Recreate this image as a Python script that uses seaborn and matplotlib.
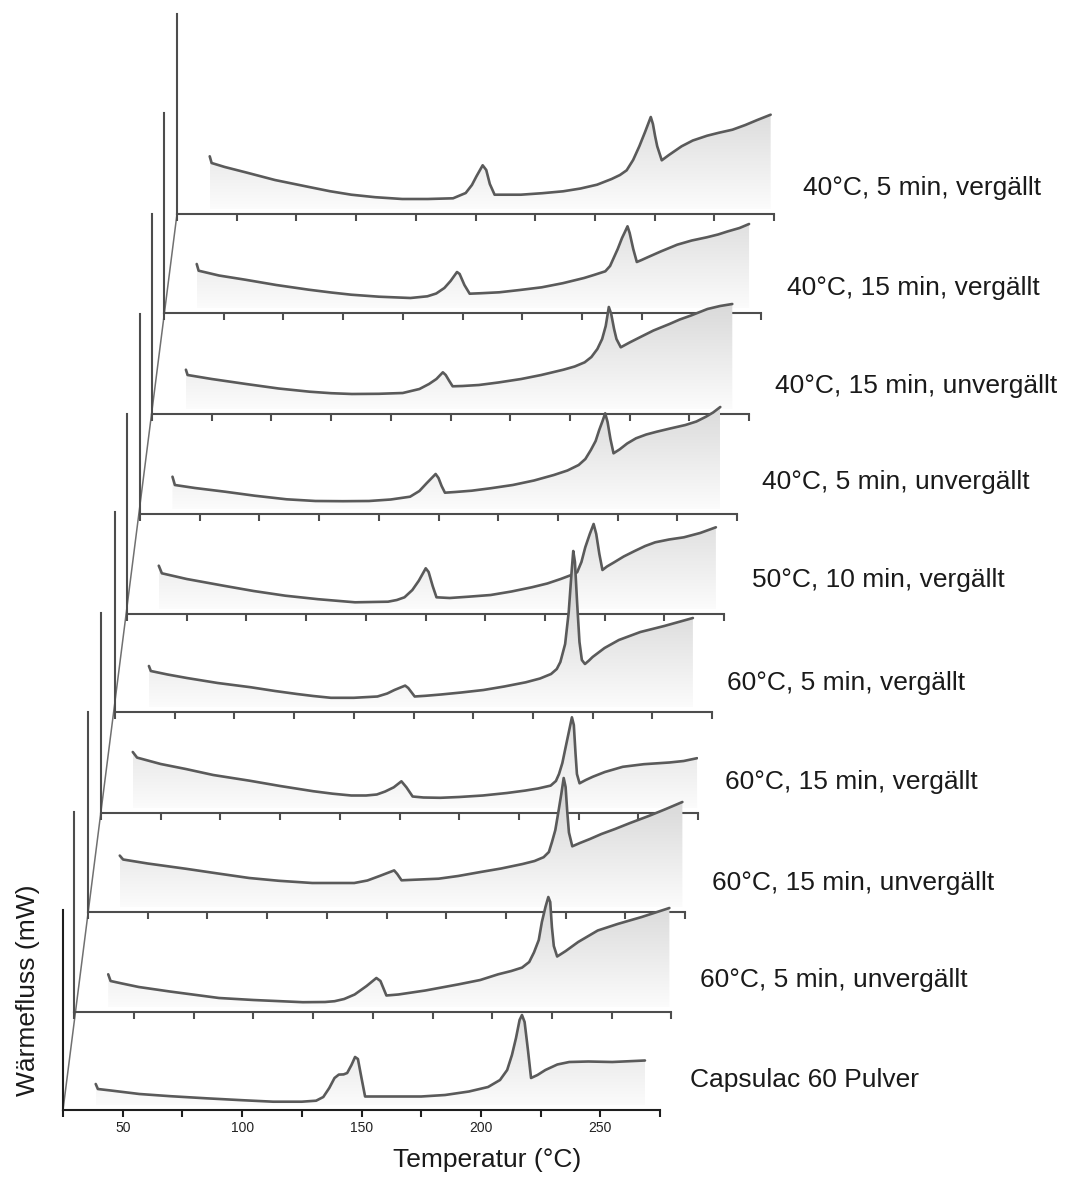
import numpy as np
import seaborn as sns
import matplotlib.pyplot as plt
from matplotlib.patches import Polygon
from matplotlib.lines import Line2D
from matplotlib.colors import LinearSegmentedColormap

sns.set_theme(style="white")
plt.rcParams['font.family'] = ['Liberation Sans', 'DejaVu Sans']

# sample labels, bottom to top
labels = ["Capsulac 60 Pulver",
          "60°C, 5 min, unvergällt",
          "60°C, 15 min, unvergällt",
          "60°C, 15 min, vergällt",
          "60°C, 5 min, vergällt",
          "50°C, 10 min, vergällt",
          "40°C, 5 min, unvergällt",
          "40°C, 15 min, unvergällt",
          "40°C, 15 min, vergällt",
          "40°C, 5 min, vergällt"]

# DSC curves: temperature (°C) and heat flow (arbitrary units, 0-200 per panel)
T0 = [38.7, 39.6, 45, 57, 70, 85, 100, 113, 125, 131, 134, 136.5, 138.7, 140.5, 142.5, 144, 145.8, 147.3, 148.5,
      150, 151.5, 160, 175, 185, 195, 203, 208, 211, 213, 214.7, 216.2, 217.2, 218.3, 219.7, 221, 223.7, 227,
      232, 237, 245, 255, 268.7]
h0 = [26, 21, 19.5, 16, 13.8, 11.7, 9.8, 8.3, 8.3, 9.3, 13, 22, 32, 35.4, 35.6, 37, 45, 53, 51,
      32, 13.5, 13.5, 13.5, 15, 18.5, 23, 30, 40, 55, 72, 90, 95, 88, 60, 32, 35, 40,
      45.5, 48, 48.5, 48, 49.5]

T1 = [39.2, 40.2, 45, 52, 65, 85.6, 100, 120.7, 130, 134, 138, 142.4, 147.4, 151.5, 153.2, 155.7, 160.7, 172,
      185.8, 195, 202.5, 208, 212.5, 215.5, 217.5, 219.5, 220.8, 222.3, 223.5, 224.3, 225, 225.8, 227.2, 230.8,
      236, 244.2, 252.5, 262.6, 274.2]
h1 = [37.7, 31, 28.5, 25, 20.5, 14, 12, 9.8, 10, 10.8, 13, 17.5, 26, 34, 31, 16.5, 17.5, 21.5,
      27.6, 32, 37.7, 41, 44.4, 50, 59.6, 72, 90, 105, 115, 110, 85, 66, 55.5, 61,
      70, 81.5, 88, 95, 104]

T2 = [38.3, 39.7, 50, 66.1, 80, 92.5, 105, 118.9, 136.5, 142, 147.1, 153.2, 154.5, 156.3, 162, 171.8, 180, 189.4,
      198, 207, 212, 215.8, 218, 219.3, 220.7, 221.9, 223.2, 224.2, 225, 225.7, 226.4, 227.8, 231, 235.2, 240,
      245.7, 252, 259.8, 267, 273.9]
h2 = [56.4, 52.5, 48.5, 43.2, 38.3, 34, 31.2, 29, 29, 31.5, 36, 41.6, 38, 31.7, 32.3, 33.3, 36, 40,
      43.5, 48, 51, 54.8, 60, 70, 82, 99, 118, 134, 125, 100, 79.5, 65.7, 69, 73, 78,
      83, 89, 96, 103, 110]

T3 = [38.3, 40.1, 50, 60.5, 72, 87.2, 100, 113.8, 122, 129.8, 136, 140.5, 144, 147.6, 150.8, 152.9, 155.5, 160,
      167.1, 175, 184.9, 195, 202.6, 208, 213.3, 215.5, 216.8, 218.2, 219.5, 221, 222.2, 223, 223.7, 224.3, 225.4,
      228, 231, 236, 243.5, 252.3, 263, 269, 274.6]
h3 = [61, 55.4, 49, 44, 38, 32.3, 27, 21.8, 19.3, 17.5, 17.5, 18.5, 21.5, 25.7, 31.7, 25.7, 16.5, 15.5,
      15.2, 16, 17.5, 20, 22.4, 24.5, 27.4, 32, 39, 50, 65, 82, 95.7, 88, 60, 39, 29.7,
      33, 36.3, 41, 46.2, 48.8, 50.5, 52, 54.8]

T4 = [39.2, 40, 47, 55.1, 68, 81.7, 92, 101.2, 108, 115.4, 125, 134.9, 139, 142, 146.5, 147.8, 150.5, 155,
      161.5, 170, 179.3, 188, 197, 203, 207.6, 210, 211.5, 213.5, 215, 216.2, 216.9, 217.6, 218.5, 219.5, 220.5,
      221.8, 223.5, 225, 230, 236, 245, 255, 267]
h4 = [46, 41, 37.5, 34, 29, 24.8, 21, 18, 16, 14.2, 14.2, 15.5, 18.5, 22, 26.4, 24, 15.5, 16.2,
      17.5, 19.5, 22, 25.5, 29.7, 33.5, 38, 43, 50, 68, 100, 140, 161, 150, 110, 70, 52,
      48, 51.5, 55, 64, 72, 80, 86, 94]

T5 = [38.3, 39.6, 50, 65.4, 78, 91.3, 105, 120.5, 134.3, 138, 141.2, 144.5, 147.2, 150.1, 151.3, 153, 154.6, 160.1,
      168, 177.3, 186, 194.5, 201, 206.6, 210.5, 213.5, 215.3, 216.9, 218.8, 220.4, 221.5, 222.8, 224.1, 226,
      229, 233, 237.6, 242, 246.2, 252, 258.2, 265, 271.6]
h5 = [48.3, 40.7, 35, 28.3, 23, 18.3, 14.8, 11.7, 12.3, 14, 16.7, 24, 33.3, 45.7, 42, 28, 16.7, 16,
      17.3, 19, 22.5, 26.7, 30.5, 35, 38.5, 41.7, 52, 66.7, 80, 90, 80, 60, 44, 47.5,
      51.7, 57.5, 63, 68, 71.7, 74.5, 76.7, 81, 86.7]

T6 = [38.6, 39.6, 48, 60.6, 73, 86.4, 98.5, 110, 120.9, 130, 138.1, 142, 145, 148.8, 150, 151.3, 152.7, 157,
      163.9, 172, 181.1, 190, 198.3, 204, 208.7, 211.5, 213.8, 215.8, 217.3, 218.7, 219.8, 220.8, 222, 223.3,
      225.9, 229, 232.7, 237, 241.4, 247, 253.4, 258, 262, 265, 268]
h6 = [37.3, 29, 26, 22.3, 18.3, 14.7, 13, 12.8, 13, 14.5, 17.3, 23, 30.7, 40, 36, 28, 21.3, 22,
      23.3, 25.8, 29, 33.5, 39, 43.5, 49, 55, 64, 73, 84, 93, 100.7, 92, 75, 60.7,
      64.7, 70.5, 75.7, 79.5, 82.3, 85.5, 89, 92.5, 97.3, 101.5, 107]

T7 = [39.2, 39.9, 50, 64.4, 78, 91, 100, 108.7, 120, 130, 137, 141, 144.1, 146.8, 148, 149.5, 150.9, 155,
      161.9, 170, 179.6, 188, 197.3, 202, 206.2, 209, 211.5, 213.5, 215, 216.3, 217.3, 218.5, 219.5, 221.3,
      225, 229.3, 235, 241.7, 246, 250.5, 257.6, 262.9, 268]
h7 = [44.3, 39, 35, 30, 25.5, 22.3, 20.8, 20, 20.2, 21, 25, 30, 35, 41.7, 39, 33, 27.7, 28,
      29, 31.5, 35, 39, 44.3, 47.5, 51.7, 57, 65, 75, 88, 107, 100, 85, 75, 66.7,
      71.5, 76.7, 83.5, 90, 94.5, 98.3, 105, 108, 110]

T8 = [38.7, 39.5, 48, 59, 72, 85.6, 95, 103.4, 115, 128.2, 135.3, 139, 142.4, 145, 147.7, 148.8, 150.8, 153,
      158, 165.4, 174, 183.2, 192, 200.9, 205, 209.8, 211.8, 213.3, 215, 216.8, 218, 219.1, 220, 221.5, 223,
      225, 227.5, 233, 239.9, 246, 252.3, 257, 261.2, 266, 270]
h8 = [49, 42.3, 37.5, 33.3, 28, 23.3, 20.5, 18.3, 16.3, 15, 16.7, 19.5, 25, 32, 41, 39, 28, 19.3,
      19.8, 20.7, 23, 25.7, 29.8, 35, 38, 41.7, 47, 55, 64, 75, 81, 86.7, 80, 64, 51,
      53, 55.7, 61.5, 68.3, 72.5, 75.7, 78.5, 81.7, 85, 89]

T9 = [38.7, 39.5, 45, 53.7, 66, 80.3, 89, 98, 108, 119.3, 130, 140.6, 145.9, 148.5, 150.4, 153, 154.5, 156,
      158, 163, 169, 178, 186.7, 194, 200.9, 207, 210.5, 213.3, 216, 218.6, 221, 223.4, 224.3, 225.2, 226.1,
      228, 231, 236.3, 241, 247, 252, 257.6, 263, 268, 273.6]
h9 = [57.7, 51, 47, 41.7, 34, 27, 22.8, 19.3, 16.8, 15, 15, 15.7, 21, 29, 37.7, 48.7, 44, 30,
      19.3, 19.3, 19.3, 20.8, 22.7, 25.5, 29.3, 35, 39, 43.7, 54, 67.7, 82, 97, 90, 78, 67.7,
      53.7, 59, 67.7, 73.5, 78.3, 81.3, 84.3, 89, 94, 99.3]

curves = [(T0, h0), (T1, h1), (T2, h2), (T3, h3), (T4, h4),
          (T5, h5), (T6, h6), (T7, h7), (T8, h8), (T9, h9)]

# layout in pixels (figure 1074 x 1183)
W, H = 1074, 1183
panel_left = [63, 74.3, 88, 101, 115, 127, 140, 152, 164, 177]
panel_base = [1110, 1012, 912, 813, 712, 614, 514, 414, 313, 214]
panel_w, panel_h = 597, 200
label_x = [690, 700, 712, 725, 727, 752, 762, 775, 787, 803]
label_y = [1080, 980, 883, 782, 683, 580, 482, 386, 288, 188]

curve_col = '#5a5a5a'
axis_col = '#4d4d4d'
cmap = LinearSegmentedColormap.from_list('fillgrad', ['#fdfdfd', '#bcbcbc'])
grad = np.linspace(0, 1, 256).reshape(-1, 1)

fig = plt.figure(figsize=(W / 100, H / 100), dpi=100)

for i, (T, h) in enumerate(curves):
    l, b = panel_left[i], panel_base[i]
    ax = fig.add_axes([l / W, 1 - b / H, panel_w / W, panel_h / H])
    ax.patch.set_alpha(0)
    ax.set_zorder(20 - i)

    # gradient fill under the curve
    verts = [(T[0], 5)] + list(zip(T, h)) + [(T[-1], 5)]
    poly = Polygon(verts, closed=True, facecolor='none', edgecolor='none', transform=ax.transData)
    ax.add_patch(poly)
    im = ax.imshow(grad, extent=[T[0], T[-1], 0, 200], origin='lower', aspect='auto',
                   cmap=cmap, vmin=0, vmax=1, zorder=1)
    im.set_clip_path(poly)

    sns.lineplot(x=T, y=h, ax=ax, color=curve_col, linewidth=1.9, sort=False, estimator=None, zorder=3)

    ax.set_xlim(25, 275)
    ax.set_ylim(0, 200)
    sns.despine(ax=ax, top=True, right=True)
    col = '#1e1e1e' if i == 0 else axis_col
    for s in ['left', 'bottom']:
        ax.spines[s].set_color(col)
        ax.spines[s].set_linewidth(1.5)
    ax.set_yticks([])
    ticks = np.arange(25, 276, 25)
    ax.set_xticks(ticks)
    if i == 0:
        ax.set_xticklabels([str(t) if (t % 50 == 0 and 25 < t < 275) else '' for t in ticks], fontsize=10)
    else:
        ax.set_xticklabels([])
    ax.tick_params(axis='x', direction='out', length=5, width=1.5, colors=col, pad=3,
                   bottom=True, labelcolor='#222222')
    ax.set_xlabel('')
    ax.set_ylabel('')

    fig.text(label_x[i] / W, 1 - label_y[i] / H, labels[i], fontsize=19, color='#1a1a1a',
             ha='left', va='center')

# depth axis connecting the panel origins
fig.add_artist(Line2D([panel_left[0] / W, panel_left[-1] / W],
                      [1 - panel_base[0] / H, 1 - panel_base[-1] / H],
                      transform=fig.transFigure, color='#707070', lw=1.1))

fig.text(487 / W, 1 - 1160 / H, "Temperatur (°C)", fontsize=19, color='#1a1a1a', ha='center', va='center')
fig.text(28 / W, 1 - 990 / H, "Wärmefluss (mW)", fontsize=19, color='#1a1a1a', ha='center', va='center',
         rotation=90)

fig.savefig("out.png", dpi=100)
